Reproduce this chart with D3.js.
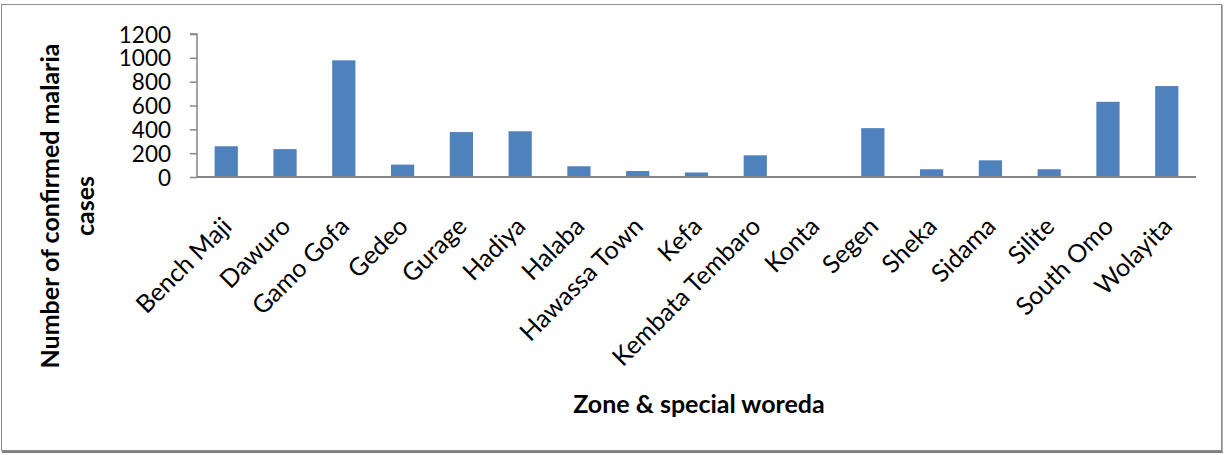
<!DOCTYPE html>
<html>
<head>
<meta charset="utf-8">
<script src="https://cdn.jsdelivr.net/npm/d3@7"></script>
<style>
  html, body { margin: 0; padding: 0; background: #fff; }
  svg { display: block; }
  text { font-family: Lato, "Open Sans", "Liberation Sans", sans-serif; fill: #000; }
</style>
</head>
<body>
<svg id="chart" width="1225" height="455"></svg>
<script>
const categories = ["Bench Maji","Dawuro","Gamo Gofa","Gedeo","Gurage","Hadiya","Halaba","Hawassa Town","Kefa","Kembata Tembaro","Konta","Segen","Sheka","Sidama","Silite","South Omo","Wolayita"];
const cases = [258, 234, 979, 104, 377, 384, 90, 50, 38, 182, 0, 410, 65, 140, 65, 631, 763];
const yTicks = [0, 200, 400, 600, 800, 1000, 1200];
const yTitleLines = ["Number of confirmed malaria", "cases"];
const xTitle = "Zone & special woreda";

const svg = d3.select("#chart");

// outer frame
svg.append("rect").attr("x", 1.5).attr("y", 4.5).attr("width", 1220).attr("height", 446)
  .attr("fill", "#fff").attr("stroke", "#8c8c8c").attr("stroke-width", 1);
svg.append("line").attr("x1", 2).attr("x2", 1223).attr("y1", 452).attr("y2", 452)
  .attr("stroke", "#7f7f7f").attr("stroke-width", 2);
svg.append("line").attr("x1", 1222.5).attr("x2", 1222.5).attr("y1", 5).attr("y2", 452)
  .attr("stroke", "#b0b0b0").attr("stroke-width", 1);

const pLeft = 197, pRight = 1196, pTop = 34, pBottom = 177;

const x = d3.scaleBand().domain(categories).range([pLeft, pRight]).paddingInner(0.605).paddingOuter(0.3);
const y = d3.scaleLinear().domain([0, 1200]).range([pBottom, pTop]);

// bars
svg.append("g").selectAll("rect").data(categories).join("rect")
  .attr("x", d => x(d))
  .attr("width", x.bandwidth())
  .attr("y", (d, i) => y(cases[i]))
  .attr("height", (d, i) => y(0) - y(cases[i]))
  .attr("fill", "#4F81BD");

// y axis
const yAxis = d3.axisLeft(y).tickValues(yTicks).tickSize(7).tickPadding(19).tickFormat(d3.format("d"));
const gy = svg.append("g").attr("transform", `translate(${pLeft},0)`).call(yAxis);
gy.select(".domain").attr("stroke", "#868686").attr("stroke-width", 1.5).attr("d", `M-7,${pTop}H0V${pBottom}`);
gy.selectAll(".tick line").attr("stroke", "#868686").attr("stroke-width", 1.5);
gy.selectAll(".tick text").attr("font-size", 22.5).attr("fill", "#000")
  .style("font-family", "Lato, 'Open Sans', sans-serif").attr("dy", "0.36em");

// x axis
const xAxis = d3.axisBottom(x).tickSize(0).tickPadding(0);
const gx = svg.append("g").attr("transform", `translate(0,${pBottom})`).call(xAxis);
gx.select(".domain").attr("stroke", "#868686").attr("stroke-width", 2).attr("d", `M${pLeft},0H${pRight}`);
gx.selectAll(".tick text")
  .attr("font-size", 25)
  .attr("fill", "#000")
  .style("font-family", "Lato, 'Open Sans', sans-serif")
  .attr("text-anchor", "end")
  .attr("dy", "0")
  .attr("y", 0)
  .attr("transform", "translate(7,51) rotate(-45)");

// y title
const yt = svg.append("text")
  .attr("transform", "translate(59,206) rotate(-90)")
  .attr("text-anchor", "middle")
  .attr("font-weight", "bold")
  .attr("font-size", 25)
  .style("font-family", "Lato, 'Open Sans', sans-serif");
yt.selectAll("tspan").data(yTitleLines).join("tspan")
  .attr("x", 0).attr("dy", (d, i) => i === 0 ? 0 : 35).text(d => d);

// x title
svg.append("text")
  .attr("x", 699).attr("y", 413)
  .attr("text-anchor", "middle")
  .attr("font-weight", "bold")
  .attr("font-size", 25)
  .style("font-family", "Lato, 'Open Sans', sans-serif")
  .text(xTitle);
</script>
</body>
</html>
